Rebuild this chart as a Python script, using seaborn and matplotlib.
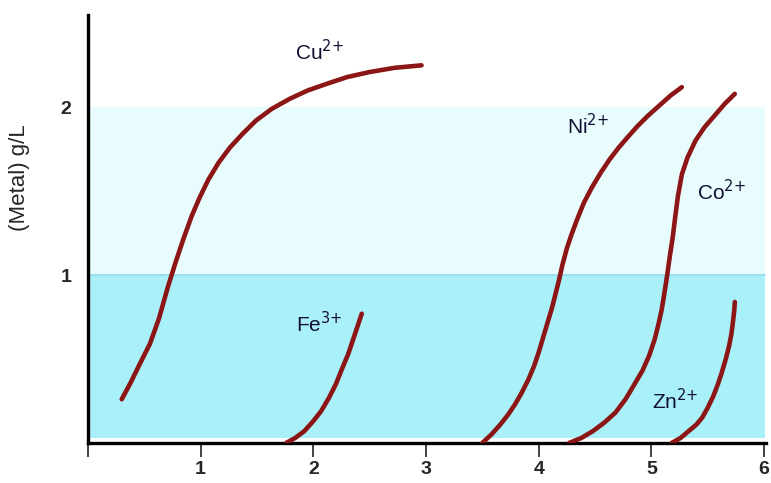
import matplotlib
matplotlib.use('Agg')
import matplotlib.pyplot as plt
import seaborn as sns

sns.set_style('white')
plt.rcParams['font.family'] = ['Liberation Sans', 'DejaVu Sans']

# curve data (x, metal g/L)
cu_x = [0.30, 0.38, 0.46, 0.55, 0.63, 0.71, 0.78, 0.85, 0.92, 0.99, 1.07, 1.16, 1.26, 1.37, 1.49, 1.63, 1.79, 1.95, 2.12, 2.30, 2.50, 2.72, 2.96]
cu_y = [0.26, 0.36, 0.47, 0.59, 0.74, 0.93, 1.08, 1.22, 1.35, 1.46, 1.57, 1.67, 1.76, 1.84, 1.92, 1.99, 2.05, 2.10, 2.14, 2.18, 2.21, 2.235, 2.25]

fe_x = [1.76, 1.84, 1.92, 2.00, 2.07, 2.14, 2.20, 2.26, 2.31, 2.35, 2.39, 2.43]
fe_y = [0.00, 0.03, 0.07, 0.13, 0.19, 0.27, 0.35, 0.45, 0.53, 0.61, 0.69, 0.77]

ni_x = [3.50, 3.58, 3.66, 3.73, 3.79, 3.85, 3.91, 3.96, 4.00, 4.04, 4.08, 4.12, 4.15, 4.18, 4.21, 4.25, 4.29,
        4.34, 4.40, 4.47, 4.55, 4.63, 4.71, 4.80, 4.88, 4.97, 5.07, 5.17, 5.27]
ni_y = [0.00, 0.05, 0.11, 0.17, 0.23, 0.30, 0.38, 0.46, 0.54, 0.63, 0.72, 0.81, 0.89, 0.97, 1.06, 1.16, 1.24,
        1.33, 1.43, 1.52, 1.61, 1.69, 1.76, 1.83, 1.89, 1.95, 2.01, 2.07, 2.12]

co_x = [4.27, 4.38, 4.48, 4.58, 4.68, 4.77, 4.85, 4.92, 4.98, 5.03, 5.06, 5.09, 5.11, 5.14, 5.165, 5.19, 5.21,
        5.235, 5.27, 5.32, 5.39, 5.47, 5.56, 5.65, 5.74]
co_y = [0.00, 0.03, 0.07, 0.12, 0.18, 0.26, 0.35, 0.43, 0.52, 0.62, 0.70, 0.79, 0.87, 1.00, 1.12, 1.23, 1.34,
        1.47, 1.60, 1.70, 1.80, 1.88, 1.95, 2.02, 2.08]

zn_x = [5.18, 5.26, 5.33, 5.40, 5.45, 5.50, 5.55, 5.59, 5.62, 5.66, 5.69, 5.71, 5.725, 5.735, 5.74]
zn_y = [0.00, 0.03, 0.07, 0.11, 0.15, 0.21, 0.28, 0.35, 0.41, 0.50, 0.58, 0.65, 0.73, 0.79, 0.84]

ion_labels = ['Cu$^{2{+}}$', 'Fe$^{3{+}}$', 'Ni$^{2{+}}$', 'Co$^{2{+}}$', 'Zn$^{2{+}}$']
label_x = [2.05, 2.05, 4.44, 5.62, 5.21]
label_y = [2.33, 0.71, 1.89, 1.50, 0.25]

x_ticks = [0, 1, 2, 3, 4, 5, 6]
x_ticklabels = ['', '1', '2', '3', '4', '5', '6']
y_ticks = [1, 2]
y_ticklabels = ['1', '2']

fig = plt.figure(figsize=(7.71, 4.83), dpi=100)
ax = fig.add_axes([0.114, 0.083, 0.88, 0.886])

# shaded bands
ax.axhspan(0.03, 1, xmin=0.003, xmax=0.998, color='#aaf0f9', lw=0, zorder=0)
ax.axhspan(1, 2, xmin=0.003, xmax=0.998, color='#e8fbfd', lw=0, zorder=0)
ax.axhline(1, xmin=0.003, xmax=0.998, color='#92dcef', lw=1.2, zorder=0.5)

red = '#8c1515'
for xs, ys in [(cu_x, cu_y), (fe_x, fe_y), (ni_x, ni_y), (co_x, co_y), (zn_x, zn_y)]:
    sns.lineplot(x=xs, y=ys, sort=False, color=red, lw=3.3, ax=ax,
                 solid_capstyle='round', solid_joinstyle='round', zorder=3)

for lab, lx, ly in zip(ion_labels, label_x, label_y):
    ax.text(lx, ly, lab, fontsize=15, ha='center', va='center', color='#111133', zorder=4)

ax.set_xlim(0, 6.02)
ax.set_ylim(0, 2.55)
ax.set_xticks(x_ticks)
ax.set_xticklabels(x_ticklabels, fontsize=14, fontweight='bold')
ax.set_yticks(y_ticks)
ax.set_yticklabels(y_ticklabels, fontsize=14, fontweight='bold')
ax.tick_params(axis='x', length=10, width=1.3, color='#333333', pad=3, direction='out', bottom=True)
ax.tick_params(axis='y', length=0, pad=12)

ax.set_ylabel('(Metal) g/L', fontsize=16)
ax.yaxis.set_label_coords(-0.085, 0.62)

for s in ['top', 'right']:
    ax.spines[s].set_visible(False)
for s in ['left', 'bottom']:
    ax.spines[s].set_linewidth(2.4)
    ax.spines[s].set_color('black')

fig.savefig('out.png', dpi=100)
